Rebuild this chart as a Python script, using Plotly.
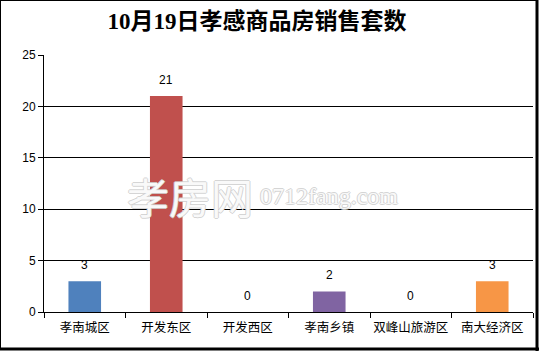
import plotly.graph_objects as go

categories = ["孝南城区", "开发东区", "开发西区", "孝南乡镇", "双峰山旅游区", "南大经济区"]
values = [3, 21, 0, 2, 0, 3]
colors = ["#4F81BD", "#C0504D", "#9BBB59", "#8064A2", "#4BACC6", "#F79646"]
y_ticks = [0, 5, 10, 15, 20, 25]
title_text = "10月19日孝感商品房销售套数"

W, H = 539, 351
L, R, T, B = 44, 6, 55, 39
pw, ph = W - L - R, H - T - B

def px(x):
    return (x - L) / pw

def py(y):
    return (H - B - y) / ph

fig = go.Figure()
fig.add_trace(go.Bar(
    x=categories, y=values,
    marker=dict(color=colors, line=dict(width=0)),
    width=0.4,
))

for c, v in zip(categories, values):
    fig.add_annotation(x=c, y=v, text=str(v), showarrow=False, yanchor="bottom", yshift=7,
                       font=dict(family="Liberation Sans, Arial", size=12, color="black"))

font_main = "Noto Sans CJK SC"
fig.update_layout(
    width=W, height=H,
    margin=dict(l=L, r=R, t=T, b=B, autoexpand=False),
    paper_bgcolor="white", plot_bgcolor="white",
    showlegend=False,
    title=dict(text="<b>" + title_text + "</b>", xref="container", x=257 / W, xanchor="center",
               yref="container", y=1 - 21 / H, yanchor="middle",
               font=dict(family="Liberation Serif, Noto Sans CJK SC", size=23, color="black")),
    xaxis=dict(showline=True, linecolor="black", linewidth=1,
               ticks="outside", tickson="boundaries", ticklen=5, tickcolor="black",
               tickangle=0, automargin=False, ticklabelstandoff=4,
               tickfont=dict(family=font_main, size=12.5, color="black"),
               showgrid=False),
    yaxis=dict(range=[0, 25], tickvals=y_ticks, showline=True, linecolor="black", linewidth=1,
               ticks="outside", ticklen=5, tickcolor="black", automargin=False,
               showgrid=True, gridcolor="black", gridwidth=1,
               tickfont=dict(family="Liberation Sans, Arial", size=12, color="black"),
               zeroline=False),
    bargap=0.6,
)

# outer border
shapes = [
    dict(type="line", xref="paper", yref="paper", x0=px(0.5), x1=px(0.5), y0=py(0), y1=py(349), line=dict(color="black", width=1)),
    dict(type="line", xref="paper", yref="paper", x0=px(0), x1=px(538), y0=py(0.5), y1=py(0.5), line=dict(color="black", width=1)),
    dict(type="line", xref="paper", yref="paper", x0=px(537), x1=px(537), y0=py(0), y1=py(351), line=dict(color="black", width=3)),
    dict(type="line", xref="paper", yref="paper", x0=px(0), x1=px(539), y0=py(349), y1=py(349), line=dict(color="black", width=3)),
]
fig.update_layout(shapes=shapes)

shadow = "-1px 0 #d0d0d0, 1px 0 #d0d0d0, 0 -1px #d0d0d0, 0 1px #d0d0d0"
fig.add_annotation(text="孝房网", xref="paper", yref="paper", x=px(190), y=py(195),
                   showarrow=False, xanchor="center", yanchor="middle",
                   font=dict(family="Noto Sans CJK SC", size=42, color="rgba(255,255,255,0.9)", shadow=shadow))
fig.add_annotation(text="0712fang.com", xref="paper", yref="paper", x=px(329), y=py(196),
                   showarrow=False, xanchor="center", yanchor="middle",
                   font=dict(family="Liberation Serif", size=24, color="rgba(255,255,255,0.9)", shadow=shadow))

fig.write_html("out.html")
